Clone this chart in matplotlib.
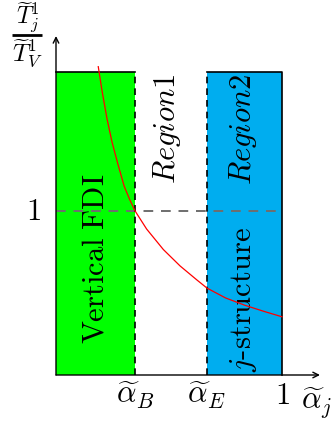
import matplotlib
matplotlib.use('Agg')
from matplotlib import pyplot as plt

plt.rcParams['mathtext.fontset'] = 'cm'
plt.rcParams['font.family'] = 'serif'

# thresholds on the alpha_j axis
alpha_B = 0.35
alpha_E = 0.668
alpha_max = 1.0
# height of the shaded regions and the unit reference level
region_top = 1.85
ratio_level = 1.0

# T_j / T_V ratio curve
curve_x = [0.187, 0.204, 0.226, 0.248, 0.274, 0.302, 0.326, 0.350, 0.401, 0.475,
           0.549, 0.623, 0.668, 0.750, 0.836, 0.920, 1.000]
curve_y = [1.880, 1.730, 1.560, 1.420, 1.285, 1.150, 1.070, 1.000, 0.890, 0.765,
           0.665, 0.580, 0.530, 0.470, 0.425, 0.388, 0.355]

xtick_pos = [alpha_B, alpha_E, alpha_max]
xtick_labels = [r'$\widetilde{\alpha}_B$', r'$\widetilde{\alpha}_E$', r'$1$']

fig = plt.figure(figsize=(3.34, 4.21), dpi=100)
ax = fig.add_axes([0, 0, 1, 1])
ax.set_xlim(-0.2478, 1.2301)
ax.set_ylim(-0.2805, 2.2866)
ax.axis('off')

green = '#00ff00'
blue = '#00adef'

# shaded regions
ax.fill_between([0, alpha_B], 0, region_top, color=green, lw=0, zorder=1)
ax.fill_between([alpha_E, alpha_max], 0, region_top, color=blue, lw=0, zorder=1)

# region outlines
ax.plot([0, alpha_B], [region_top, region_top], 'k', lw=1.2, zorder=3)
ax.plot([alpha_B, alpha_B], [0, region_top], 'k--', lw=1.2, dashes=(4, 3), zorder=3)
ax.plot([alpha_E, alpha_E], [0, region_top], 'k--', lw=1.2, dashes=(4, 3), zorder=3)
ax.plot([alpha_E, alpha_max, alpha_max], [region_top, region_top, 0], 'k', lw=1.2, zorder=3)

# reference level
ax.plot([0, alpha_max], [ratio_level, ratio_level], color='#6e6e6e', lw=1.4,
        dashes=(5, 4), zorder=2)

# ratio curve
ax.plot(curve_x, curve_y, color='red', lw=0.9, zorder=4)

# axes with arrow heads
ax.annotate('', xy=(1.168, 0), xytext=(0, 0),
            arrowprops=dict(arrowstyle='->', lw=1.0, color='k', shrinkA=0, shrinkB=0), zorder=5)
ax.annotate('', xy=(0, 2.067), xytext=(0, 0),
            arrowprops=dict(arrowstyle='->', lw=1.0, color='k', shrinkA=0, shrinkB=0), zorder=5)

fs = 22
for xp, lab in zip(xtick_pos, xtick_labels):
    ax.text(xp, -0.03, lab, ha='center', va='top', fontsize=fs)
ax.text(1.085, -0.06, r'$\widetilde{\alpha}_j$', ha='left', va='top', fontsize=fs)
ax.text(-0.065, ratio_level, r'$1$', ha='right', va='center', fontsize=fs)

# y label written as a stacked fraction
ax.text(-0.125, 2.18, r'$\widetilde{T}_j^1$', ha='center', va='center', fontsize=17)
ax.plot([-0.195, -0.062], [2.073, 2.073], 'k', lw=2.0, solid_capstyle='butt',
        clip_on=False)
ax.text(-0.125, 1.965, r'$\widetilde{T}_V^1$', ha='center', va='center', fontsize=18)

# region labels
ax.text(0.173, 0.71, r'$\mathrm{Vertical\ FDI}$', rotation=90, ha='center',
        va='center', fontsize=fs)
ax.text(0.49, 1.50, r'$Region1$', rotation=90, ha='center', va='center', fontsize=fs)
ax.text(0.828, 1.50, r'$Region2$', rotation=90, ha='center', va='center', fontsize=fs)
ax.text(0.828, 0.46, r'$j\mathrm{\text{-}structure}$', rotation=90, ha='center',
        va='center', fontsize=fs)

plt.savefig('out.png', dpi=100)
